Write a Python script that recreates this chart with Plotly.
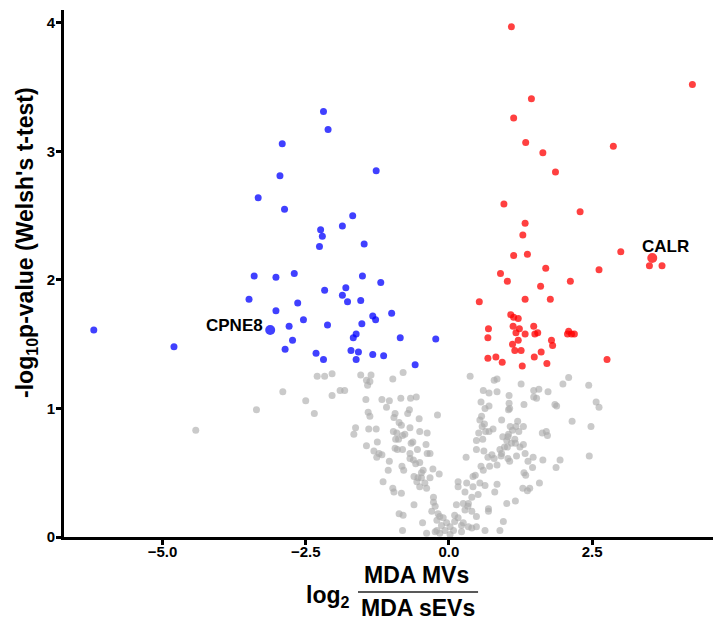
import plotly.graph_objects as go

# ---------------- data (log2 fold change, -log10 p) ----------------
blue_x = [-2.19, -2.11, -2.91, -1.27, -2.95, -3.33, -2.87, -1.68, -1.86, -2.24,
          -2.21, -2.26, -1.48, -3.40, -3.02, -2.70, -1.51, -1.19, -2.17, -1.80,
          -1.86, -1.77, -1.54, -3.49, -2.64, -3.02, -2.54, -1.33, -1.28, -1.00,
          -1.52, -2.12, -2.79, -6.20, -4.80, -2.73, -1.62, -1.67, -0.85, -0.23,
          -2.86, -2.32, -2.19, -1.71, -1.58, -1.62, -1.33, -1.14, -0.59]
blue_y = [3.31, 3.17, 3.06, 2.85, 2.81, 2.64, 2.55, 2.50, 2.42, 2.39,
          2.34, 2.26, 2.28, 2.03, 2.02, 2.05, 2.03, 1.98, 1.92, 1.94,
          1.88, 1.83, 1.84, 1.85, 1.82, 1.76, 1.69, 1.72, 1.69, 1.74,
          1.66, 1.65, 1.64, 1.61, 1.48, 1.53, 1.58, 1.55, 1.55, 1.54,
          1.46, 1.43, 1.38, 1.45, 1.44, 1.38, 1.42, 1.41, 1.34]

red_x = [1.09, 4.25, 1.44, 1.13, 1.34, 2.87, 1.64, 1.86, 0.96, 2.29,
         1.33, 1.29, 3.00, 3.50, 3.72, 1.13, 1.37, 1.69, 2.62, 0.90,
         1.02, 2.12, 1.60, 1.33, 1.77, 0.53, 1.08, 1.13, 1.21, 1.12,
         1.23, 1.48, 0.69, 1.17, 1.33, 1.50, 1.55, 0.68, 1.21, 1.11,
         2.09, 2.07, 2.14, 2.19, 1.79, 1.81, 1.15, 1.26, 1.61, 0.68,
         0.82, 0.93, 1.49, 1.71, 1.28, 2.76]
red_y = [3.97, 3.52, 3.41, 3.26, 3.07, 3.04, 2.99, 2.84, 2.59, 2.53,
         2.44, 2.35, 2.22, 2.11, 2.11, 2.19, 2.20, 2.09, 2.08, 2.05,
         1.99, 1.99, 1.95, 1.85, 1.85, 1.83, 1.73, 1.71, 1.70, 1.64,
         1.62, 1.64, 1.62, 1.59, 1.58, 1.58, 1.59, 1.55, 1.53, 1.50,
         1.60, 1.58, 1.58, 1.58, 1.53, 1.49, 1.45, 1.45, 1.44, 1.39,
         1.40, 1.36, 1.40, 1.35, 1.33, 1.38]

grey_points = [
    (-3.36, 0.99), (-2.90, 1.13), (-2.50, 1.06), (-2.35, 0.96), (-2.30, 1.25),
    (-2.17, 1.25), (-2.04, 1.27), (-2.04, 1.10), (-1.90, 1.14), (-1.82, 1.14),
    (-1.63, 0.85), (-1.66, 0.80), (-1.54, 1.26), (-1.36, 1.26), (-1.44, 1.22),
    (-1.38, 1.21), (-1.42, 1.18), (-1.45, 1.07), (-1.41, 0.97), (-1.38, 0.94),
    (-1.40, 0.84), (-1.27, 0.84), (-1.25, 0.74), (-1.44, 0.71), (-1.31, 0.67),
    (-1.26, 0.62), (-1.22, 0.65), (-1.17, 0.64), (-1.17, 1.07), (-1.04, 1.06),
    (-1.09, 1.01), (-0.98, 1.23), (-0.80, 1.28), (-0.84, 1.08), (-0.67, 1.08),
    (-0.57, 1.09), (-0.69, 0.99), (-0.72, 0.96), (-0.94, 0.96), (-0.96, 0.93),
    (-0.87, 0.89), (-0.83, 0.87), (-0.52, 0.92), (-0.68, 0.85), (-0.51, 0.82),
    (-0.38, 0.81), (-0.91, 0.81), (-0.97, 0.82), (-0.93, 0.76), (-0.88, 0.76),
    (-0.81, 0.79), (-0.77, 0.80), (-0.63, 0.74), (-0.66, 0.73), (-0.40, 0.72),
    (-0.55, 0.68), (-0.38, 0.65), (-0.33, 0.65), (-0.94, 0.69), (-0.90, 0.68),
    (-0.81, 0.68), (-0.68, 0.65), (-0.68, 0.61), (-0.62, 0.60), (-0.58, 0.57),
    (-0.51, 0.58), (-1.04, 0.59), (-1.06, 0.52), (-0.82, 0.55), (-0.79, 0.52),
    (-0.45, 0.52), (-0.48, 0.50), (-0.28, 0.53), (-0.33, 0.46), (-0.61, 0.47),
    (-0.54, 0.46), (-0.48, 0.46), (-1.15, 0.43), (-0.98, 0.38), (-0.96, 0.35),
    (-0.87, 0.18), (-0.80, 0.17), (-0.81, 0.05), (-4.42, 0.83),
    (0.37, 1.25), (0.79, 1.22), (0.84, 1.23), (1.26, 1.19), (1.57, 1.15),
    (1.48, 1.14), (1.73, 1.13), (1.99, 1.19), (2.09, 1.24), (2.44, 1.18),
    (2.57, 1.05), (2.62, 1.01), (2.15, 0.90), (2.48, 0.86), (2.45, 0.63),
    (1.94, 0.60), (1.87, 0.54), (1.64, 0.60), (1.58, 0.42), (1.46, 0.54),
    (1.47, 0.62), (1.38, 0.59), (1.33, 0.65), (1.30, 0.72), (1.24, 0.70),
    (1.20, 0.90), (1.17, 0.86), (1.30, 0.86), (1.22, 0.82), (1.11, 0.83),
    (1.07, 0.86), (1.04, 0.80), (1.03, 0.78), (1.15, 0.76), (1.16, 0.73),
    (1.09, 0.73), (1.02, 0.70), (0.97, 0.70), (0.89, 0.68), (0.92, 0.65),
    (0.91, 0.63), (1.03, 0.61), (1.06, 0.59), (1.18, 0.63), (1.31, 0.50),
    (1.34, 0.48), (0.84, 0.56), (0.79, 0.61), (0.75, 0.64), (0.68, 0.62),
    (0.61, 0.67), (0.48, 0.68), (0.48, 0.75), (0.52, 0.81), (0.59, 0.76),
    (0.64, 0.82), (0.70, 0.82), (0.77, 0.84), (0.58, 0.86), (0.54, 0.91),
    (0.62, 0.88), (0.57, 0.94), (0.63, 1.00), (0.56, 1.05), (0.70, 1.02),
    (0.60, 1.14), (0.70, 1.12), (0.84, 1.13), (1.05, 1.10), (1.05, 1.04),
    (1.04, 0.99), (1.06, 1.00), (0.92, 0.91), (0.94, 0.78), (1.01, 0.75),
    (1.31, 1.03), (1.48, 1.09), (1.53, 1.08), (1.85, 1.03), (1.88, 1.02),
    (1.63, 0.81), (1.70, 0.82), (1.72, 0.79), (0.30, 0.62), (-0.20, 0.95),
    (0.56, 0.55), (0.60, 0.52), (0.71, 0.55), (0.46, 0.48), (0.42, 0.47),
    (-0.17, 0.49), (1.29, 0.38), (1.41, 0.38), (1.37, 0.36), (1.16, 0.28),
    (-0.83, 0.34), (-0.61, 0.25), (-0.46, 0.11), (-0.27, 0.31), (-0.27, 0.27),
    (-0.30, 0.20), (-0.24, 0.24), (-0.19, 0.18), (-0.16, 0.16), (-0.21, 0.13),
    (-0.10, 0.15), (-0.13, 0.09), (-0.04, 0.11), (0.02, 0.08), (-0.07, 0.05),
    (0.08, 0.05), (-0.21, 0.05), (-0.24, 0.04), (-0.16, 0.03), (0.02, 0.02),
    (0.10, 0.17), (0.16, 0.15), (0.10, 0.12), (0.22, 0.09), (0.22, 0.04),
    (0.13, 0.25), (0.25, 0.26), (0.34, 0.26), (0.28, 0.21), (0.40, 0.20),
    (0.48, 0.16), (0.34, 0.08), (0.40, 0.07), (0.63, 0.05), (0.40, 0.31),
    (0.51, 0.33), (0.28, 0.35), (0.16, 0.43), (0.31, 0.42), (0.42, 0.39),
    (0.54, 0.42), (0.69, 0.22), (0.69, 0.20), (0.89, 0.05), (0.95, 0.12),
    (1.01, 0.26), (0.80, 0.35), (-0.39, 0.03), (-0.42, 0.42), (-0.39, 0.38),
    (-0.51, 0.39), (-0.56, 0.43), (0.16, 0.39), (0.48, 0.08), (0.25, 0.11),
    (0.33, 0.24), (0.84, 0.41), (0.63, 0.40),
]
grey_x = [p[0] for p in grey_points]
grey_y = [p[1] for p in grey_points]

label_names = ["CPNE8", "CALR"]
label_x = [-3.12, 3.55]
label_y = [1.61, 2.17]
label_colors = ["rgba(0,0,255,0.75)", "rgba(255,0,0,0.75)"]

x_tick_vals = [-5.0, -2.5, 0.0, 2.5]
x_tick_text = ["\u22125.0", "\u22122.5", "0.0", "2.5"]
y_tick_vals = [0, 1, 2, 3, 4]
y_tick_text = ["0", "1", "2", "3", "4"]

FONT = "Liberation Sans, Arial, Helvetica, sans-serif"
GREY = "rgba(170,170,170,0.62)"
BLUE = "rgba(0,0,255,0.75)"
RED = "rgba(255,0,0,0.75)"

fig = go.Figure()
fig.add_trace(go.Scatter(x=grey_x, y=grey_y, mode="markers",
                         marker=dict(size=7, color=GREY, line=dict(width=0))))
fig.add_trace(go.Scatter(x=blue_x, y=blue_y, mode="markers",
                         marker=dict(size=7, color=BLUE, line=dict(width=0))))
fig.add_trace(go.Scatter(x=red_x, y=red_y, mode="markers",
                         marker=dict(size=7, color=RED, line=dict(width=0))))
fig.add_trace(go.Scatter(x=label_x, y=label_y, mode="markers",
                         marker=dict(size=10, color=label_colors, line=dict(width=0))))

# gene labels
fig.add_annotation(x=label_x[0], y=label_y[0], xref="x", yref="y", text="<b>" + label_names[0] + "</b>",
                   showarrow=False, xanchor="right", yanchor="middle", xshift=-5, yshift=5,
                   font=dict(family=FONT, size=17, color="black"))
fig.add_annotation(x=label_x[1], y=label_y[1], xref="x", yref="y", text="<b>" + label_names[1] + "</b>",
                   showarrow=False, xanchor="left", yanchor="middle", xshift=-12, yshift=12,
                   font=dict(family=FONT, size=17, color="black"))

# y-axis title
fig.add_annotation(x=-0.057, y=0.558, xref="paper", yref="paper",
                   text="<b>-log<sub>10</sub>p-value (Welsh's t-test)</b>",
                   textangle=-90, showarrow=False, xanchor="center", yanchor="middle",
                   font=dict(family=FONT, size=23, color="black"))

# x-axis title as a fraction
fig.add_annotation(x=0.4438, y=-0.113, xref="paper", yref="paper",
                   text="<b>log<sub>2</sub></b>", showarrow=False,
                   xanchor="right", yanchor="middle",
                   font=dict(family=FONT, size=23, color="black"))
fig.add_annotation(x=0.5439, y=-0.072, xref="paper", yref="paper",
                   text="<b>MDA MVs</b>", showarrow=False,
                   xanchor="center", yanchor="middle",
                   font=dict(family=FONT, size=23, color="black"))
fig.add_annotation(x=0.5462, y=-0.1338, xref="paper", yref="paper",
                   text="<b>MDA sEVs</b>", showarrow=False,
                   xanchor="center", yanchor="middle",
                   font=dict(family=FONT, size=23, color="black"))
fig.add_shape(type="line", xref="paper", yref="paper",
              x0=0.453, x1=0.638, y0=-0.1044, y1=-0.1044,
              line=dict(color="#222222", width=1.3))

axis_common = dict(showline=True, linecolor="black", linewidth=3,
                   ticks="outside", ticklen=5, tickwidth=2.5, tickcolor="black",
                   showgrid=False, zeroline=False,
                   tickfont=dict(family=FONT, size=15, color="black", weight="bold"))

fig.update_layout(
    width=713, height=621,
    margin=dict(l=64, r=0, t=10, b=84),
    plot_bgcolor="white", paper_bgcolor="white",
    showlegend=False,
    xaxis=dict(range=[-6.72, 4.61], tickvals=x_tick_vals, ticktext=x_tick_text,
               ticklabelstandoff=-6, **axis_common),
    yaxis=dict(range=[0, 4.10], tickvals=y_tick_vals, ticktext=y_tick_text,
               ticklabelstandoff=-2, **axis_common),
)

fig.write_html("out.html", config={"displayModeBar": False},
               post_script="document.body.style.margin='0px';document.body.style.overflow='hidden';")
